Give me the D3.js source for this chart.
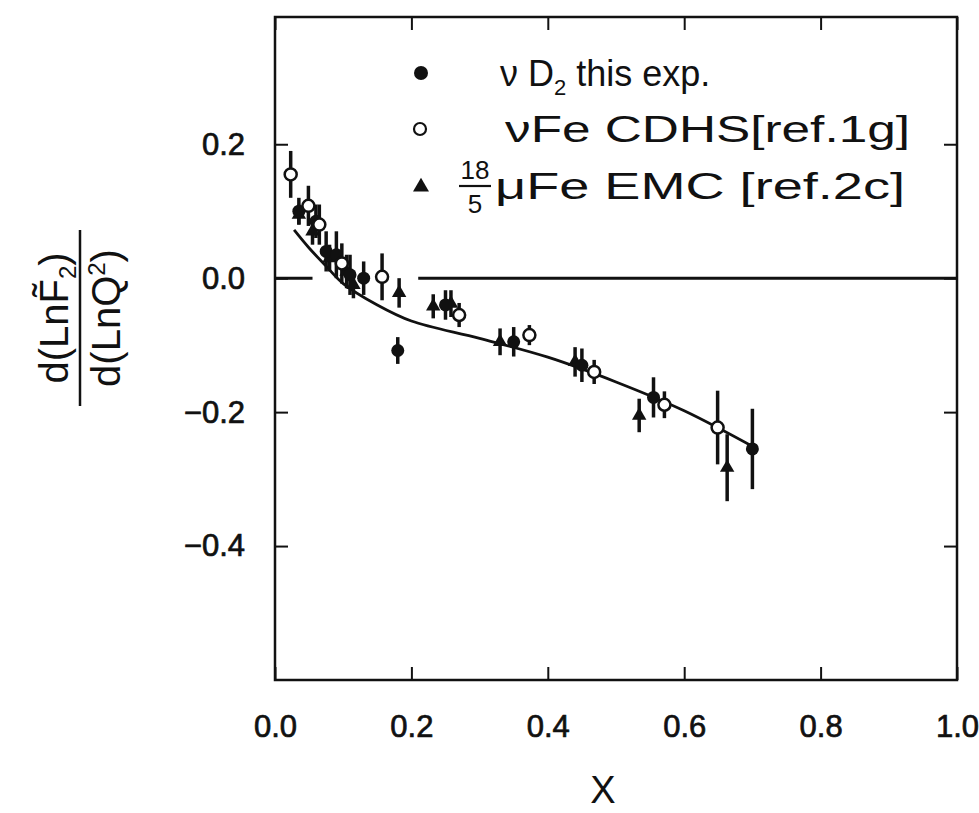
<!DOCTYPE html>
<html>
<head>
<meta charset="utf-8">
<script src="https://cdn.jsdelivr.net/npm/d3@7"></script>
<style>
  html, body { margin: 0; padding: 0; background: #fff; }
  svg { display: block; }
</style>
</head>
<body>
<svg id="chart" width="979" height="813"></svg>
<script>
// ---- data ----
const xTickValues = [0, 0.2, 0.4, 0.6, 0.8, 1.0];
const xTickLabels = ["0.0", "0.2", "0.4", "0.6", "0.8", "1.0"];
const yTickValues = [0.2, 0.0, -0.2, -0.4];
const yTickLabels = ["0.2", "0.0", "\u22120.2", "\u22120.4"];

// nu D2 (this exp.) - filled circles
const d2X   = [0.035, 0.06, 0.075, 0.09, 0.11, 0.13, 0.18, 0.25, 0.35, 0.45, 0.555, 0.70];
const d2Y   = [0.10, 0.085, 0.04, 0.035, 0.005, 0.0, -0.108, -0.04, -0.095, -0.13, -0.178, -0.255];
const d2Err = [0.02, 0.025, 0.03, 0.035, 0.03, 0.025, 0.02, 0.022, 0.022, 0.025, 0.03, 0.06];

// nu Fe CDHS - open circles
const cdhsX   = [0.023, 0.049, 0.065, 0.098, 0.157, 0.27, 0.373, 0.468, 0.571, 0.649];
const cdhsY   = [0.155, 0.108, 0.08, 0.022, 0.002, -0.055, -0.085, -0.14, -0.189, -0.223];
const cdhsErr = [0.035, 0.03, 0.03, 0.03, 0.035, 0.018, 0.015, 0.018, 0.02, 0.055];

// 18/5 mu Fe EMC - filled triangles
const emcX   = [0.035, 0.055, 0.08, 0.105, 0.115, 0.182, 0.232, 0.258, 0.33, 0.44, 0.534, 0.663];
const emcY   = [0.095, 0.07, 0.03, 0.01, -0.01, -0.022, -0.042, -0.038, -0.095, -0.125, -0.205, -0.283];
const emcErr = [0.015, 0.02, 0.02, 0.025, 0.02, 0.022, 0.018, 0.02, 0.02, 0.022, 0.025, 0.05];

// QCD fit curve
const fitX = [0.028, 0.05, 0.075, 0.10, 0.15, 0.20, 0.30, 0.40, 0.50, 0.60, 0.707];
const fitY = [0.072, 0.045, 0.018, -0.008, -0.040, -0.064, -0.090, -0.118, -0.155, -0.198, -0.255];

// zero reference line segments (broken where points cluster)
const zeroSegX = [[0, 0.055], [0.21, 1.0]];

// ---- drawing ----
const svg = d3.select("#chart");
const L = 275, R = 957, T = 17, B = 680;
const x = d3.scaleLinear().domain([0, 1.0]).range([L, R]);
const y = d3.scaleLinear().domain([-0.6, 0.39]).range([B, T]);
const font = "'Liberation Sans', Arial, sans-serif";
const ink = "#111";

// frame
svg.append("rect").attr("x", L).attr("y", T).attr("width", R - L).attr("height", B - T)
  .attr("fill", "none").attr("stroke", ink).attr("stroke-width", 2.5);

// axes
const fmtX = (d) => xTickLabels[xTickValues.indexOf(d)];
const fmtY = (d) => yTickLabels[yTickValues.indexOf(d)];

const gB = svg.append("g").attr("transform", `translate(0,${B})`)
  .call(d3.axisBottom(x).tickValues(xTickValues).tickSize(-13).tickPadding(35).tickFormat(fmtX));
const gT = svg.append("g").attr("transform", `translate(0,${T})`)
  .call(d3.axisTop(x).tickValues(xTickValues).tickSize(-13).tickFormat(""));
const gL = svg.append("g").attr("transform", `translate(${L},0)`)
  .call(d3.axisLeft(y).tickValues(yTickValues).tickSize(-13).tickPadding(30).tickFormat(fmtY));
const gR = svg.append("g").attr("transform", `translate(${R},0)`)
  .call(d3.axisRight(y).tickValues(yTickValues).tickSize(-13).tickFormat(""));
[gB, gT, gL, gR].forEach(g => {
  g.select(".domain").remove();
  g.selectAll(".tick line").attr("stroke", ink).attr("stroke-width", 2);
  g.selectAll(".tick text").attr("fill", ink)
    .attr("stroke", ink).attr("stroke-width", 0.7)
    .style("font-family", font).style("font-size", "31px");
});

// zero line
svg.append("g").selectAll("line").data(zeroSegX).join("line")
  .attr("x1", d => x(d[0])).attr("x2", d => x(d[1]))
  .attr("y1", y(0)).attr("y2", y(0))
  .attr("stroke", ink).attr("stroke-width", 3);

// fit curve
const fitData = fitX.map((v, i) => [v, fitY[i]]);
svg.append("path").datum(fitData)
  .attr("d", d3.line().x(d => x(d[0])).y(d => y(d[1])).curve(d3.curveCatmullRom.alpha(0.5)))
  .attr("fill", "none").attr("stroke", ink).attr("stroke-width", 2.8);

function series(xs, ys, es) { return xs.map((v, i) => ({ x: v, y: ys[i], e: es[i] })); }
const d2 = series(d2X, d2Y, d2Err);
const cdhs = series(cdhsX, cdhsY, cdhsErr);
const emc = series(emcX, emcY, emcErr);

function errBars(data) {
  svg.append("g").selectAll("line").data(data).join("line")
    .attr("x1", d => x(d.x)).attr("x2", d => x(d.x))
    .attr("y1", d => y(d.y + d.e)).attr("y2", d => y(d.y - d.e))
    .attr("stroke", ink).attr("stroke-width", 3.5);
}
errBars(d2); errBars(cdhs); errBars(emc);

const tri = d3.symbol().type(d3.symbolTriangle).size(90);
svg.append("g").selectAll("path").data(emc).join("path")
  .attr("transform", d => `translate(${x(d.x)},${y(d.y)})`)
  .attr("d", tri).attr("fill", ink);
svg.append("g").selectAll("circle").data(d2).join("circle")
  .attr("cx", d => x(d.x)).attr("cy", d => y(d.y)).attr("r", 6.5).attr("fill", ink);
svg.append("g").selectAll("circle").data(cdhs).join("circle")
  .attr("cx", d => x(d.x)).attr("cy", d => y(d.y)).attr("r", 6)
  .attr("fill", "#fff").attr("stroke", ink).attr("stroke-width", 2.5);

// legend
const lg = svg.append("g").style("font-family", font).attr("fill", ink);
lg.append("circle").attr("cx", 421).attr("cy", 73).attr("r", 7).attr("fill", ink);
lg.append("circle").attr("cx", 420).attr("cy", 129).attr("r", 6).attr("fill", "none")
  .attr("stroke", ink).attr("stroke-width", 2.2);
lg.append("path").attr("transform", "translate(421,187)")
  .attr("d", d3.symbol().type(d3.symbolTriangle).size(110)).attr("fill", ink);

const t1 = lg.append("text").attr("x", 500).attr("y", 86).style("font-size", "36px");
t1.append("tspan").text("\u03BD D");
t1.append("tspan").text("2").style("font-size", "22px").attr("dy", 9);
t1.append("tspan").text(" this exp.").attr("dy", -9);

lg.append("text").attr("x", 505).attr("y", 142).style("font-size", "36px")
  .attr("textLength", 405).attr("lengthAdjust", "spacingAndGlyphs")
  .text("\u03BDFe CDHS[ref.1g]");

lg.append("text").attr("x", 475).attr("y", 179).attr("text-anchor", "middle")
  .style("font-size", "26px").text("18");
lg.append("line").attr("x1", 459).attr("x2", 491).attr("y1", 186).attr("y2", 186)
  .attr("stroke", ink).attr("stroke-width", 2.2);
lg.append("text").attr("x", 475).attr("y", 213).attr("text-anchor", "middle")
  .style("font-size", "26px").text("5");
lg.append("text").attr("x", 495).attr("y", 199).style("font-size", "36px")
  .attr("textLength", 410).attr("lengthAdjust", "spacingAndGlyphs")
  .text("\u03BCFe EMC  [ref.2c]");

// axis titles
svg.append("text").attr("x", 603).attr("y", 803).attr("text-anchor", "middle")
  .style("font-family", font).style("font-size", "38px").attr("fill", ink).text("X");

const yl = svg.append("g").attr("transform", "translate(80,318) rotate(-90)")
  .style("font-family", font).attr("fill", ink);
const num = yl.append("text").attr("x", 0).attr("y", -12).attr("text-anchor", "middle")
  .style("font-size", "40px");
num.append("tspan").text("d(LnF\u0303");
num.append("tspan").text("2").style("font-size", "24px").attr("dy", 8);
num.append("tspan").text(")").attr("dy", -8);
yl.append("line").attr("x1", -88).attr("x2", 88).attr("y1", 0).attr("y2", 0)
  .attr("stroke", ink).attr("stroke-width", 2.5);
const den = yl.append("text").attr("x", 0).attr("y", 40).attr("text-anchor", "middle")
  .style("font-size", "40px");
den.append("tspan").text("d(LnQ");
den.append("tspan").text("2").style("font-size", "24px").attr("dy", -15);
den.append("tspan").text(")").attr("dy", 15);
</script>
</body>
</html>
